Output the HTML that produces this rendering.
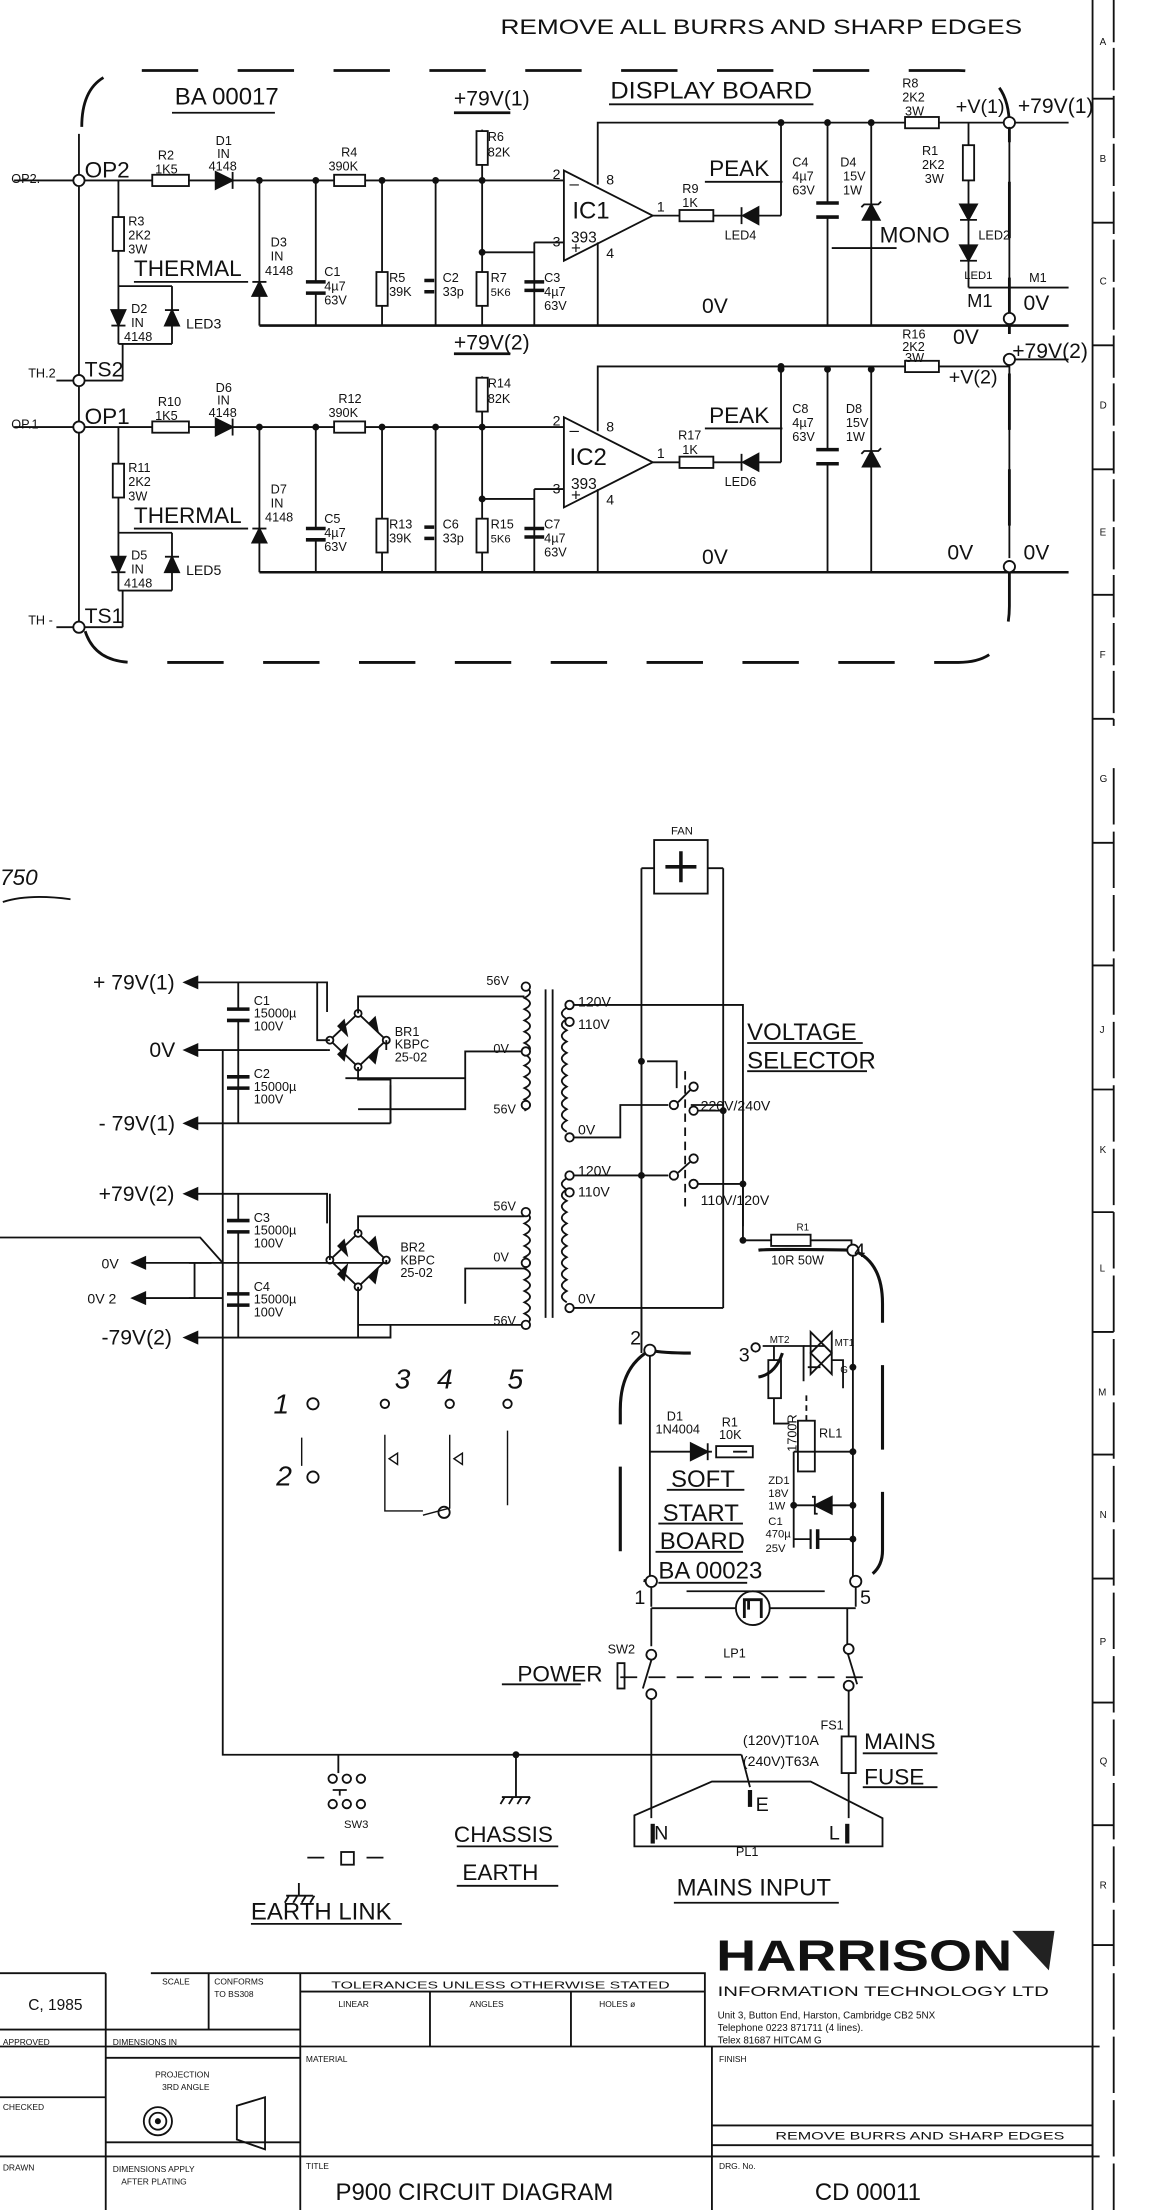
<!DOCTYPE html>
<html><head><meta charset="utf-8"><style>
html,body{margin:0;padding:0;background:#fff;}
svg{display:block;}
text{font-family:"Liberation Sans Narrow","Liberation Sans",sans-serif;fill:#111;}
</style></head><body>
<svg width="1156" height="2210" viewBox="0 0 820 1568" preserveAspectRatio="none" xmlns="http://www.w3.org/2000/svg">
<rect width="820" height="1568" fill="#fff"/>
<g stroke="#111" stroke-width="1.3" fill="none">
<line x1="775" y1="0" x2="775" y2="1568"/>
<line x1="790" y1="0" x2="790" y2="515" stroke-dasharray="30 4"/>
<line x1="790" y1="545" x2="790" y2="1568" stroke-dasharray="40 5"/>
<path d="M775 70H790M775 158H790M775 245H790M775 333H790M775 422H790M775 510H790M775 598H790M775 685H790M775 773H790M775 860H790M775 945H790M775 1032H790M775 1120H790M775 1208H790M775 1295H790M775 1380H790"/>

<path d="M58 90 Q58 50 95 50 H680 Q716 50 716 90 V430 Q716 470 680 470 H95 Q58 470 58 430" stroke-width="2" stroke-dasharray="40 28"/>
<line x1="56" y1="95" x2="56" y2="448"/>

<g id="board">
<line x1="10" y1="128" x2="108" y2="128"/>
<rect x="108" y="124" width="26" height="8"/>
<line x1="134" y1="128" x2="153" y2="128"/>
<polygon points="153,122 153,134 165,128" fill="#111"/>
<line x1="165" y1="122" x2="165" y2="134"/>
<line x1="165" y1="128" x2="237" y2="128"/>
<rect x="237" y="124" width="22" height="8"/>
<line x1="259" y1="128" x2="400" y2="128"/>
<line x1="184" y1="231" x2="758" y2="231" stroke-width="1.8"/>
<line x1="184" y1="128" x2="184" y2="231"/>
<polygon points="179,210 189,210 184,200" fill="#111"/><line x1="179" y1="200" x2="189" y2="200"/>
<line x1="224" y1="128" x2="224" y2="200"/><line x1="224" y1="208" x2="224" y2="231"/>
<line x1="217" y1="200" x2="231" y2="200" stroke-width="2.5"/><line x1="217" y1="208" x2="231" y2="208" stroke-width="2.5"/>
<line x1="271" y1="128" x2="271" y2="193"/><rect x="267" y="193" width="8" height="24"/><line x1="271" y1="217" x2="271" y2="231"/>
<line x1="309" y1="128" x2="309" y2="231"/>
<line x1="301" y1="199" x2="308" y2="199" stroke-width="2.5"/><line x1="301" y1="207" x2="308" y2="207" stroke-width="2.5"/>
<line x1="342" y1="92" x2="342" y2="193"/><rect x="338" y="93" width="8" height="24" fill="#fff"/>
<rect x="338" y="193" width="8" height="24" fill="#fff"/><line x1="342" y1="217" x2="342" y2="231"/>
<line x1="342" y1="179" x2="379" y2="179"/><line x1="379" y1="172" x2="379" y2="231"/><line x1="379" y1="172" x2="400" y2="172"/>
<line x1="372" y1="200" x2="386" y2="200" stroke-width="2.5"/><line x1="372" y1="206" x2="386" y2="206" stroke-width="2.5"/>
<polygon points="400,121 400,185 463,153" fill="#fff"/>
<line x1="424" y1="172" x2="424" y2="231"/>
<line x1="463" y1="153" x2="482" y2="153"/><rect x="482" y="149" width="24" height="8"/>
<line x1="506" y1="153" x2="526" y2="153"/>
<polygon points="538,147 538,159 527,153" fill="#111"/><line x1="526" y1="147" x2="526" y2="159"/>
<line x1="538" y1="153" x2="554" y2="153"/>
<line x1="554" y1="87" x2="554" y2="153"/>
<line x1="587" y1="87" x2="587" y2="144"/><line x1="587" y1="154" x2="587" y2="231"/>
<line x1="579" y1="144" x2="595" y2="144" stroke-width="2.5"/><line x1="579" y1="154" x2="595" y2="154" stroke-width="2.5"/>
<line x1="618" y1="87" x2="618" y2="231"/>
<polygon points="612,156 624,156 618,145" fill="#111"/><path d="M611 147 L613 145 H623 L625 143"/>
<circle cx="554" cy="87" r="1.8" fill="#111"/><circle cx="587" cy="87" r="1.8" fill="#111"/><circle cx="618" cy="87" r="1.8" fill="#111"/>
<circle cx="184" cy="128" r="1.8" fill="#111"/><circle cx="224" cy="128" r="1.8" fill="#111"/><circle cx="271" cy="128" r="1.8" fill="#111"/><circle cx="309" cy="128" r="1.8" fill="#111"/><circle cx="342" cy="128" r="1.8" fill="#111"/><circle cx="342" cy="179" r="1.8" fill="#111"/>
<circle cx="56" cy="128" r="4" fill="#fff"/>
<line x1="84" y1="128" x2="84" y2="154"/><rect x="80" y="154" width="8" height="24"/>
<line x1="84" y1="178" x2="84" y2="244"/>
<line x1="84" y1="203" x2="122" y2="203"/><line x1="122" y1="203" x2="122" y2="244"/>
<polygon points="79,220 89,220 84,231" fill="#111"/><line x1="79" y1="231" x2="89" y2="231"/>
<polygon points="117,231 127,231 122,220" fill="#111"/><line x1="117" y1="220" x2="127" y2="220"/>
<line x1="84" y1="244" x2="122" y2="244"/><line x1="87" y1="244" x2="87" y2="270"/><line x1="40" y1="270" x2="87" y2="270"/>
<circle cx="56" cy="270" r="4" fill="#fff"/>
</g>
<use href="#board" y="175"/>

<line x1="322" y1="80" x2="362" y2="80" stroke-width="2"/>
<path d="M424 131V87H716 M716 87H758"/>
<rect x="642" y="83" width="24" height="8" fill="#fff"/>
<line x1="687" y1="87" x2="687" y2="103"/><rect x="683" y="103" width="8" height="25"/>
<line x1="687" y1="128" x2="687" y2="204"/>
<polygon points="681,145 693,145 687,156" fill="#111"/><line x1="681" y1="156" x2="693" y2="156"/>
<polygon points="681,174 693,174 687,185" fill="#111"/><line x1="681" y1="185" x2="693" y2="185"/>
<line x1="687" y1="204" x2="758" y2="204"/>
<circle cx="716" cy="87" r="4" fill="#fff"/><circle cx="716" cy="226" r="4" fill="#fff"/>
<line x1="716" y1="90" x2="716" y2="222"/>
<line x1="322" y1="251" x2="362" y2="251" stroke-width="2"/>
<path d="M424 306V260H716"/>
<rect x="642" y="256" width="24" height="8" fill="#fff"/>
<path d="M716 255H758"/>
<circle cx="716" cy="255" r="4" fill="#fff"/><line x1="716" y1="259" x2="716" y2="396"/>
<circle cx="716" cy="402" r="4" fill="#fff"/>
<circle cx="554" cy="260" r="1.8" fill="#111"/>
<path d="M122 80H195M432 74H577M95 200H176M95 375H176M500 129H555M500 304H555M590 176H636"/>

<path d="M2 640 Q20 634 50 638"/>
<rect x="464" y="596" width="38" height="38"/>
<path d="M483 604V626M472 615H494" stroke-width="2.5"/>
<path d="M455 616H464M502 616H513M455 616V960M513 616V928"/>
<path d="M134 697H232V718M232 718"/>
<polygon points="131,697 140,693 140,701" fill="#111"/>
<path d="M134 745H158M158 745H232M134 797H277M277 797V770"/>
<polygon points="131,745 140,741 140,749" fill="#111"/><polygon points="131,797 140,793 140,801" fill="#111"/>
<path d="M169 697V716M169 725V797"/>
<line x1="161" y1="716" x2="177" y2="716" stroke-width="2.5"/><line x1="161" y1="724" x2="177" y2="724" stroke-width="2.5"/>
<line x1="161" y1="764" x2="177" y2="764" stroke-width="2.5"/><line x1="161" y1="772" x2="177" y2="772" stroke-width="2.5"/>
<path d="M134 847H232V868M134 896H158M134 921H158M134 949H277"/>
<polygon points="131,847 140,843 140,851" fill="#111"/><polygon points="94,896 103,892 103,900" fill="#111"/><polygon points="94,921 103,917 103,925" fill="#111"/><polygon points="131,949 140,945 140,953" fill="#111"/>
<path d="M100 896H150M100 921H138V896M0 878H142L158 896"/>
<path d="M169 847V866M169 875V949"/>
<line x1="161" y1="866" x2="177" y2="866" stroke-width="2.5"/><line x1="161" y1="874" x2="177" y2="874" stroke-width="2.5"/>
<line x1="161" y1="918" x2="177" y2="918" stroke-width="2.5"/><line x1="161" y1="926" x2="177" y2="926" stroke-width="2.5"/>
<path d="M158 745V1245H526"/>
<g id="br">
<polygon points="254,719 274,738 254,757 234,738"/>
<polygon points="240,728 246,734 244,724" fill="#111"/><polygon points="262,726 268,732 266,722" fill="#111"/>
<polygon points="240,748 246,742 244,752" fill="#111"/><polygon points="262,750 268,744 266,754" fill="#111"/>
<circle cx="254" cy="719" r="2.5" fill="#fff"/><circle cx="234" cy="738" r="2.5" fill="#fff"/><circle cx="274" cy="738" r="2.5" fill="#fff"/><circle cx="254" cy="757" r="2.5" fill="#fff"/>
</g>
<use href="#br" y="156"/>
<path d="M254 719V707H372M234 738H225V697M274 738V745M254 757V766H277V797H277M254 757V766M254 787H330V746H372"/>
<path d="M254 875V863H372M234 894V847M274 894V896H158M254 913V940H372M254 940V949H277V940M277 896M330 925V900H372"/>
<path d="M232 745H234M245 765H330"/>
<path d="M372 700 q8 4 0 8 q8 4 0 8 q8 4 0 8 q8 4 0 8 q8 4 0 8 q8 4 0 8 q8 4 0 8 q8 4 0 8 q8 4 0 8 q8 4 0 8 q8 4 0 8"/>
<path d="M372 860 q8 4 0 8 q8 4 0 8 q8 4 0 8 q8 4 0 8 q8 4 0 8 q8 4 0 8 q8 4 0 8 q8 4 0 8 q8 4 0 8 q8 4 0 8"/>
<path d="M387 702V935M392 702V935"/>
<path d="M402 715 q-7 4 0 8 q-7 4 0 8 q-7 4 0 8 q-7 4 0 8 q-7 4 0 8 q-7 4 0 8 q-7 4 0 8 q-7 4 0 8 q-7 4 0 8 q-7 4 0 8 q-7 4 0 8"/>
<path d="M402 836 q-7 4 0 8 q-7 4 0 8 q-7 4 0 8 q-7 4 0 8 q-7 4 0 8 q-7 4 0 8 q-7 4 0 8 q-7 4 0 8 q-7 4 0 8 q-7 4 0 8 q-7 4 0 8"/>
<circle cx="373" cy="700" r="3" fill="#fff"/><circle cx="373" cy="746" r="3" fill="#fff"/><circle cx="373" cy="784" r="3" fill="#fff"/>
<circle cx="373" cy="860" r="3" fill="#fff"/><circle cx="373" cy="896" r="3" fill="#fff"/><circle cx="373" cy="940" r="3" fill="#fff"/>
<circle cx="404" cy="713" r="3" fill="#fff"/><circle cx="404" cy="725" r="3" fill="#fff"/><circle cx="404" cy="807" r="3" fill="#fff"/>
<circle cx="404" cy="834" r="3" fill="#fff"/><circle cx="404" cy="846" r="3" fill="#fff"/><circle cx="404" cy="928" r="3" fill="#fff"/>
<path d="M407 713H527V870M407 807H440V784H474M459 753H480V772M407 834H455V753M455 834H474M490 784H513M527 870H527M407 928H513V928M455 928V958"/>
<circle cx="478" cy="784" r="3" fill="#fff"/><circle cx="492" cy="771" r="3" fill="#fff"/><circle cx="492" cy="788" r="3" fill="#fff"/>
<circle cx="478" cy="834" r="3" fill="#fff"/><circle cx="492" cy="822" r="3" fill="#fff"/><circle cx="492" cy="840" r="3" fill="#fff"/>
<path d="M481 782L490 773M481 832L490 824"/>
<path d="M486 760V860" stroke-dasharray="6 4"/>
<path d="M495 840H527M495 788H512"/>
<circle cx="455" cy="834" r="1.8" fill="#111"/><circle cx="513" cy="788" r="1.8" fill="#111"/><circle cx="527" cy="840" r="1.8" fill="#111"/><circle cx="455" cy="753" r="1.8" fill="#111"/>
<path d="M527 840V880H547M575 880H604V888"/><rect x="547" y="876" width="28" height="8"/>
<circle cx="527" cy="880" r="1.8" fill="#111"/>
<path d="M461 958 Q440 970 440 1000 V1105 Q440 1120 461 1122" stroke-width="2.2" stroke-dasharray="60 30"/>
<path d="M605 887 Q626 895 626 925 V1100 Q626 1117 608 1122" stroke-width="2.2" stroke-dasharray="60 30"/>
<path d="M461 958 Q470 960 490 960M538 977 Q550 975 555 960M538 887 Q545 886 605 887" stroke-width="2.2"/>
<path d="M461 958V1122M461 1030H505M605 887V1122M541 955H570V980M573 970H582M520 1030H530M563 1030H605M563 1030V1098M563 1068H605M563 1092H575M580 1092H605"/>
<circle cx="536" cy="956" r="3" fill="#fff"/>
<polygon points="490,1024 490,1036 502,1030" fill="#111"/><line x1="502" y1="1024" x2="502" y2="1036"/>
<rect x="508" y="1026" width="26" height="8"/>
<rect x="566" y="1008" width="12" height="36"/>
<line x1="572" y1="990" x2="572" y2="1008" stroke-dasharray="4 3"/>
<polygon points="578,1068 590,1062 590,1074" fill="#111"/><path d="M576 1062 L578 1062 V1074 L580 1074"/>
<line x1="575" y1="1085" x2="575" y2="1099" stroke-width="1.5"/><line x1="580" y1="1085" x2="580" y2="1099" stroke-width="2.5"/>
<path d="M570 955H585M590 945V975L575 960ZM575 945V975L590 960Z M590 965H598V985"/>
<rect x="545" y="965" width="9" height="27"/><path d="M549 955V965M549 992V1010H560"/>
<circle cx="605" cy="1030" r="1.8" fill="#111"/><circle cx="605" cy="1068" r="1.8" fill="#111"/><circle cx="605" cy="1092" r="1.8" fill="#111"/><circle cx="605" cy="970" r="1.8" fill="#111"/><circle cx="563" cy="1068" r="1.8" fill="#111"/>
<circle cx="461" cy="958" r="4" fill="#fff"/><circle cx="605" cy="887" r="4" fill="#fff"/>
<circle cx="462" cy="1122" r="4" fill="#fff"/><circle cx="607" cy="1122" r="4" fill="#fff"/>
<path d="M462 1126V1140M607 1126V1140M462 1141H522M546 1141H607"/>
<circle cx="534" cy="1141" r="12"/>
<path d="M528 1148V1135H540V1148M531 1135V1142" stroke-width="2"/>
<path d="M462 1141V1168M462 1178L456 1198M462 1200V1290M601 1141V1168M601 1172L608 1195M602 1198V1232M602 1258V1290"/>
<circle cx="462" cy="1174" r="3.5" fill="#fff"/><circle cx="462" cy="1202" r="3.5" fill="#fff"/>
<circle cx="602" cy="1170" r="3.5" fill="#fff"/><circle cx="602" cy="1196" r="3.5" fill="#fff"/>
<path d="M440 1190H620" stroke-dasharray="12 8"/>
<rect x="438" y="1180" width="5" height="18"/>
<rect x="597" y="1232" width="10" height="26" fill="#fff"/>
<path d="M450 1288V1310H626V1290L575 1264H505Z"/>
<path d="M526 1245 L532 1268"/>
<line x1="532" y1="1270" x2="532" y2="1282" stroke-width="3"/>
<line x1="463" y1="1294" x2="463" y2="1308" stroke-width="3"/><line x1="601" y1="1294" x2="601" y2="1308" stroke-width="3"/>
<circle cx="366" cy="1245" r="1.8" fill="#111"/>
<path d="M366 1245V1275M356 1275H376M358 1275l-3 5M364 1275l-3 5M370 1275l-3 5M376 1275l-3 5"/>
<path d="M240 1245V1258"/>
<circle cx="236" cy="1262" r="3" fill="#fff"/><circle cx="246" cy="1262" r="3" fill="#fff"/><circle cx="256" cy="1262" r="3" fill="#fff"/>
<circle cx="236" cy="1280" r="3" fill="#fff"/><circle cx="246" cy="1280" r="3" fill="#fff"/><circle cx="256" cy="1280" r="3" fill="#fff"/>
<path d="M236 1270H246M241 1270V1274"/>
<rect x="242" y="1314" width="9" height="9"/>
<path d="M218 1318H230M260 1318H272"/>
<path d="M212 1336V1345M203 1345H222M205 1345l-3 5M211 1345l-3 5M217 1345l-3 5M223 1345l-3 5"/>
<path d="M214 1020V1040M273 1018V1072L300 1072M276 1035l6 -4 0 8zM319 1018V1070L300 1075M322 1035l6 -4 0 8zM360 1015V1068" stroke-width="1"/>
<circle cx="222" cy="996" r="4"/><circle cx="273" cy="996" r="3"/><circle cx="319" cy="996" r="3"/><circle cx="360" cy="996" r="3"/><circle cx="222" cy="1048" r="4"/><circle cx="315" cy="1073" r="4"/>
<path d="M530 740H612M530 760H615M473 1057H528M467 1081H527M465 1101H527M467 1123H530M487 1129H585M356 1195H412M324 1310H396M324 1338H396M178 1365H285M478 1350H595M612 1244H665M612 1268H665"/>

<path d="M0 1400H75M107 1400H213M213 1400H500V1452M213 1413H500M0 1440H75M0 1452H780M75 1400V1568M213 1400V1568M75 1440H213M75 1460H213M0 1488H75M0 1530H780M75 1520H213M305 1413V1452M405 1413V1452M148 1400V1440M505 1452V1568M505 1508H775M505 1522H775M775 1452V1530"/>
<circle cx="112" cy="1505" r="10"/><circle cx="112" cy="1505" r="6"/><circle cx="112" cy="1505" r="1.5" fill="#111"/>
<path d="M168 1494V1518L188 1525V1488Z"/>
</g>
<polygon points="718,1370 748,1370 744,1398" fill="#222"/>

<g font-size="12">
<text x="355" y="24" font-size="15" textLength="370" lengthAdjust="spacingAndGlyphs">REMOVE ALL BURRS AND SHARP EDGES</text>
<text x="124" y="74" font-size="17">BA 00017</text>
<text x="322" y="75" font-size="15">+79V(1)</text>
<text x="433" y="70" font-size="17" textLength="143" lengthAdjust="spacingAndGlyphs">DISPLAY  BOARD</text>
<text x="8" y="130" font-size="9">OP2.</text>
<text x="60" y="126" font-size="16">OP2</text>
<text x="112" y="113" font-size="9">R2</text><text x="110" y="123" font-size="9">1K5</text>
<text x="153" y="103" font-size="9">D1</text><text x="154" y="112" font-size="9">IN</text><text x="148" y="121" font-size="9">4148</text>
<text x="242" y="111" font-size="9">R4</text><text x="233" y="121" font-size="9">390K</text>
<text x="346" y="100" font-size="9">R6</text><text x="346" y="111" font-size="9">82K</text>
<text x="406" y="155" font-size="17">IC1</text><text x="405" y="172" font-size="11">393</text>
<text x="392" y="127" font-size="10">2</text><text x="430" y="131" font-size="10">8</text><text x="392" y="175" font-size="10">3</text><text x="430" y="183" font-size="10">4</text><text x="466" y="150" font-size="10">1</text>
<text x="404" y="134" font-size="12">–</text><text x="405" y="180" font-size="12">+</text>
<text x="503" y="125" font-size="16">PEAK</text>
<text x="484" y="137" font-size="9">R9</text><text x="484" y="147" font-size="9">1K</text>
<text x="514" y="170" font-size="9">LED4</text>
<text x="562" y="118" font-size="9">C4</text><text x="562" y="128" font-size="9">4µ7</text><text x="562" y="138" font-size="9">63V</text>
<text x="596" y="118" font-size="9">D4</text><text x="598" y="128" font-size="9">15V</text><text x="598" y="138" font-size="9">1W</text>
<text x="640" y="62" font-size="9">R8</text><text x="640" y="72" font-size="9">2K2</text><text x="642" y="82" font-size="9">3W</text>
<text x="654" y="110" font-size="9">R1</text><text x="654" y="120" font-size="9">2K2</text><text x="656" y="130" font-size="9">3W</text>
<text x="678" y="80" font-size="14">+V(1)</text>
<text x="722" y="80" font-size="15">+79V(1)</text>
<text x="624" y="172" font-size="16">MONO</text>
<text x="694" y="170" font-size="9">LED2</text><text x="684" y="198" font-size="8">LED1</text>
<text x="686" y="218" font-size="13">M1</text><text x="730" y="200" font-size="9">M1</text>
<text x="726" y="220" font-size="15">0V</text>
<text x="498" y="222" font-size="15">0V</text>
<text x="676" y="244" font-size="15">0V</text>
<text x="91" y="160" font-size="9">R3</text><text x="91" y="170" font-size="9">2K2</text><text x="91" y="180" font-size="9">3W</text>
<text x="95" y="196" font-size="16">THERMAL</text>
<text x="192" y="175" font-size="9">D3</text><text x="192" y="185" font-size="9">IN</text><text x="188" y="195" font-size="9">4148</text>
<text x="230" y="196" font-size="9">C1</text><text x="230" y="206" font-size="9">4µ7</text><text x="230" y="216" font-size="9">63V</text>
<text x="276" y="200" font-size="9">R5</text><text x="276" y="210" font-size="9">39K</text>
<text x="314" y="200" font-size="9">C2</text><text x="314" y="210" font-size="9">33p</text>
<text x="348" y="200" font-size="9">R7</text><text x="348" y="210" font-size="8">5K6</text>
<text x="386" y="200" font-size="9">C3</text><text x="386" y="210" font-size="9">4µ7</text><text x="386" y="220" font-size="9">63V</text>
<text x="93" y="222" font-size="9">D2</text><text x="93" y="232" font-size="9">IN</text><text x="88" y="242" font-size="9">4148</text>
<text x="132" y="233" font-size="10">LED3</text>
<text x="20" y="268" font-size="9">TH.2</text><text x="60" y="267" font-size="15">TS2</text>
<text x="322" y="248" font-size="15">+79V(2)</text>
<text x="8" y="304" font-size="9">OP.1</text>
<text x="60" y="301" font-size="16">OP1</text>
<text x="112" y="288" font-size="9">R10</text><text x="110" y="298" font-size="9">1K5</text>
<text x="153" y="278" font-size="9">D6</text><text x="154" y="287" font-size="9">IN</text><text x="148" y="296" font-size="9">4148</text>
<text x="240" y="286" font-size="9">R12</text><text x="233" y="296" font-size="9">390K</text>
<text x="346" y="275" font-size="9">R14</text><text x="346" y="286" font-size="9">82K</text>
<text x="404" y="330" font-size="17">IC2</text><text x="405" y="347" font-size="11">393</text>
<text x="392" y="302" font-size="10">2</text><text x="430" y="306" font-size="10">8</text><text x="392" y="350" font-size="10">3</text><text x="430" y="358" font-size="10">4</text><text x="466" y="325" font-size="10">1</text>
<text x="404" y="309" font-size="12">–</text><text x="405" y="355" font-size="12">+</text>
<text x="503" y="300" font-size="16">PEAK</text>
<text x="481" y="312" font-size="9">R17</text><text x="484" y="322" font-size="9">1K</text>
<text x="514" y="345" font-size="9">LED6</text>
<text x="562" y="293" font-size="9">C8</text><text x="562" y="303" font-size="9">4µ7</text><text x="562" y="313" font-size="9">63V</text>
<text x="600" y="293" font-size="9">D8</text><text x="600" y="303" font-size="9">15V</text><text x="600" y="313" font-size="9">1W</text>
<text x="640" y="240" font-size="9">R16</text><text x="640" y="249" font-size="9">2K2</text><text x="642" y="257" font-size="9">3W</text>
<text x="673" y="272" font-size="14">+V(2)</text>
<text x="718" y="254" font-size="15">+79V(2)</text>
<text x="498" y="400" font-size="15">0V</text><text x="672" y="397" font-size="15">0V</text><text x="726" y="397" font-size="15">0V</text>
<text x="91" y="335" font-size="9">R11</text><text x="91" y="345" font-size="9">2K2</text><text x="91" y="355" font-size="9">3W</text>
<text x="95" y="371" font-size="16">THERMAL</text>
<text x="192" y="350" font-size="9">D7</text><text x="192" y="360" font-size="9">IN</text><text x="188" y="370" font-size="9">4148</text>
<text x="230" y="371" font-size="9">C5</text><text x="230" y="381" font-size="9">4µ7</text><text x="230" y="391" font-size="9">63V</text>
<text x="276" y="375" font-size="9">R13</text><text x="276" y="385" font-size="9">39K</text>
<text x="314" y="375" font-size="9">C6</text><text x="314" y="385" font-size="9">33p</text>
<text x="348" y="375" font-size="9">R15</text><text x="348" y="385" font-size="8">5K6</text>
<text x="386" y="375" font-size="9">C7</text><text x="386" y="385" font-size="9">4µ7</text><text x="386" y="395" font-size="9">63V</text>
<text x="93" y="397" font-size="9">D5</text><text x="93" y="407" font-size="9">IN</text><text x="88" y="417" font-size="9">4148</text>
<text x="132" y="408" font-size="10">LED5</text>
<text x="20" y="443" font-size="9">TH -</text><text x="60" y="442" font-size="15">TS1</text>
<g font-size="7"><text x="780" y="32">A</text><text x="780" y="115">B</text><text x="780" y="202">C</text><text x="780" y="290">D</text><text x="780" y="380">E</text><text x="780" y="467">F</text><text x="780" y="555">G</text><text x="780" y="733">J</text><text x="780" y="818">K</text><text x="780" y="902">L</text><text x="779" y="990">M</text><text x="780" y="1077">N</text><text x="780" y="1167">P</text><text x="780" y="1252">Q</text><text x="780" y="1340">R</text></g>
<text x="0" y="628" font-size="16" font-style="italic">750</text>
<text x="476" y="592" font-size="8">FAN</text>
<text x="66" y="702" font-size="15">+ 79V(1)</text>
<text x="106" y="750" font-size="15">0V</text>
<text x="70" y="802" font-size="15">- 79V(1)</text>
<text x="70" y="852" font-size="15">+79V(2)</text>
<text x="72" y="900" font-size="10">0V</text>
<text x="62" y="925" font-size="10">0V 2</text>
<text x="72" y="954" font-size="15">-79V(2)</text>
<g font-size="9">
<text x="180" y="713">C1</text><text x="180" y="722">15000µ</text><text x="180" y="731">100V</text>
<text x="180" y="765">C2</text><text x="180" y="774">15000µ</text><text x="180" y="783">100V</text>
<text x="180" y="867">C3</text><text x="180" y="876">15000µ</text><text x="180" y="885">100V</text>
<text x="180" y="916">C4</text><text x="180" y="925">15000µ</text><text x="180" y="934">100V</text>
<text x="280" y="735">BR1</text><text x="280" y="744">KBPC</text><text x="280" y="753">25-02</text>
<text x="284" y="888">BR2</text><text x="284" y="897">KBPC</text><text x="284" y="906">25-02</text>
<text x="345" y="699">56V</text><text x="350" y="747">0V</text><text x="350" y="790">56V</text>
<text x="350" y="859">56V</text><text x="350" y="895">0V</text><text x="350" y="940">56V</text>
<text x="410" y="714" font-size="10">120V</text><text x="410" y="730" font-size="10">110V</text><text x="410" y="805" font-size="10">0V</text>
<text x="410" y="834" font-size="10">120V</text><text x="410" y="849" font-size="10">110V</text><text x="410" y="925" font-size="10">0V</text>
<text x="497" y="788" font-size="10">220V/240V</text><text x="497" y="855" font-size="10">110V/120V</text>
<text x="565" y="873" font-size="7">R1</text><text x="547" y="897">10R 50W</text>
<text x="473" y="1008">D1</text><text x="465" y="1017">1N4004</text><text x="512" y="1012">R1</text><text x="510" y="1021">10K</text>
<text x="581" y="1020">RL1</text>
<text x="545" y="1053" font-size="8">ZD1</text><text x="545" y="1062" font-size="8">18V</text><text x="545" y="1071" font-size="8">1W</text>
<text x="545" y="1082" font-size="8">C1</text><text x="543" y="1091" font-size="8">470µ</text><text x="543" y="1101" font-size="8">25V</text>
<text x="546" y="953" font-size="7">MT2</text><text x="592" y="955" font-size="7">MT1</text><text x="596" y="974" font-size="7">G</text>
<text x="513" y="1176" font-size="9">LP1</text><text x="431" y="1173">SW2</text>
<text x="582" y="1227">FS1</text><text x="527" y="1238" font-size="10">(120V)T10A</text><text x="527" y="1253" font-size="10">(240V)T63A</text>
<text x="244" y="1297" font-size="8">SW3</text><text x="522" y="1317" font-size="9">PL1</text>
</g>
<text x="568" y="1019" font-size="9" transform="rotate(-90 572 1026)">1700R</text>
<text x="606" y="892" font-size="14">4</text><text x="524" y="966" font-size="14">3</text>
<text x="447" y="954" font-size="14">2</text><text x="450" y="1138" font-size="14">1</text><text x="610" y="1138" font-size="14">5</text>
<text x="530" y="738" font-size="17">VOLTAGE</text><text x="530" y="758" font-size="17">SELECTOR</text>
<text x="476" y="1055" font-size="17">SOFT</text><text x="470" y="1079" font-size="17">START</text><text x="468" y="1099" font-size="17">BOARD</text><text x="467" y="1120" font-size="17">BA 00023</text>
<text x="367" y="1193" font-size="16">POWER</text>
<text x="613" y="1241" font-size="16">MAINS</text><text x="613" y="1266" font-size="16">FUSE</text>
<text x="536" y="1285" font-size="14">E</text><text x="464" y="1305" font-size="14">N</text><text x="588" y="1305" font-size="14">L</text>
<text x="322" y="1307" font-size="16">CHASSIS</text><text x="328" y="1334" font-size="16">EARTH</text>
<text x="178" y="1362" font-size="17">EARTH LINK</text>
<text x="480" y="1345" font-size="17">MAINS INPUT</text>
<text x="194" y="1003" font-size="20" font-style="italic">1</text><text x="196" y="1054" font-size="20" font-style="italic">2</text>
<text x="280" y="985" font-size="20" font-style="italic">3</text><text x="310" y="985" font-size="20" font-style="italic">4</text><text x="360" y="985" font-size="20" font-style="italic">5</text>
<text x="508" y="1398" font-size="31" font-weight="bold" font-family="Liberation Serif,serif" textLength="210" lengthAdjust="spacingAndGlyphs">HARRISON</text>
<text x="509" y="1416" font-size="10" textLength="235" lengthAdjust="spacingAndGlyphs">INFORMATION  TECHNOLOGY  LTD</text>
<text x="509" y="1432" font-size="7">Unit 3, Button End, Harston, Cambridge CB2 5NX</text>
<text x="509" y="1441" font-size="7">Telephone 0223 871711 (4 lines).</text>
<text x="509" y="1450" font-size="7">Telex 81687 HITCAM G</text>
<text x="20" y="1426" font-size="11">C, 1985</text>
<text x="115" y="1408" font-size="6">SCALE</text><text x="152" y="1408" font-size="6">CONFORMS</text><text x="152" y="1417" font-size="6">TO BS308</text>
<text x="235" y="1411" font-size="7" textLength="240" lengthAdjust="spacingAndGlyphs">TOLERANCES UNLESS OTHERWISE STATED</text>
<text x="240" y="1424" font-size="6">LINEAR</text><text x="333" y="1424" font-size="6">ANGLES</text><text x="425" y="1424" font-size="6">HOLES ø</text>
<text x="2" y="1451" font-size="6">APPROVED</text><text x="80" y="1451" font-size="6">DIMENSIONS IN</text>
<text x="110" y="1474" font-size="6">PROJECTION</text><text x="115" y="1483" font-size="6">3RD ANGLE</text>
<text x="217" y="1463" font-size="6">MATERIAL</text><text x="510" y="1463" font-size="6">FINISH</text>
<text x="2" y="1497" font-size="6">CHECKED</text>
<text x="550" y="1518" font-size="8" textLength="205" lengthAdjust="spacingAndGlyphs">REMOVE BURRS AND SHARP EDGES</text>
<text x="2" y="1540" font-size="6">DRAWN</text><text x="80" y="1541" font-size="6">DIMENSIONS APPLY</text><text x="86" y="1550" font-size="6">AFTER PLATING</text>
<text x="217" y="1539" font-size="6">TITLE</text><text x="510" y="1539" font-size="6">DRG. No.</text>
<text x="238" y="1561" font-size="17">P900  CIRCUIT  DIAGRAM</text>
<text x="578" y="1561" font-size="17">CD  00011</text>
</g>
</svg>
</body></html>
